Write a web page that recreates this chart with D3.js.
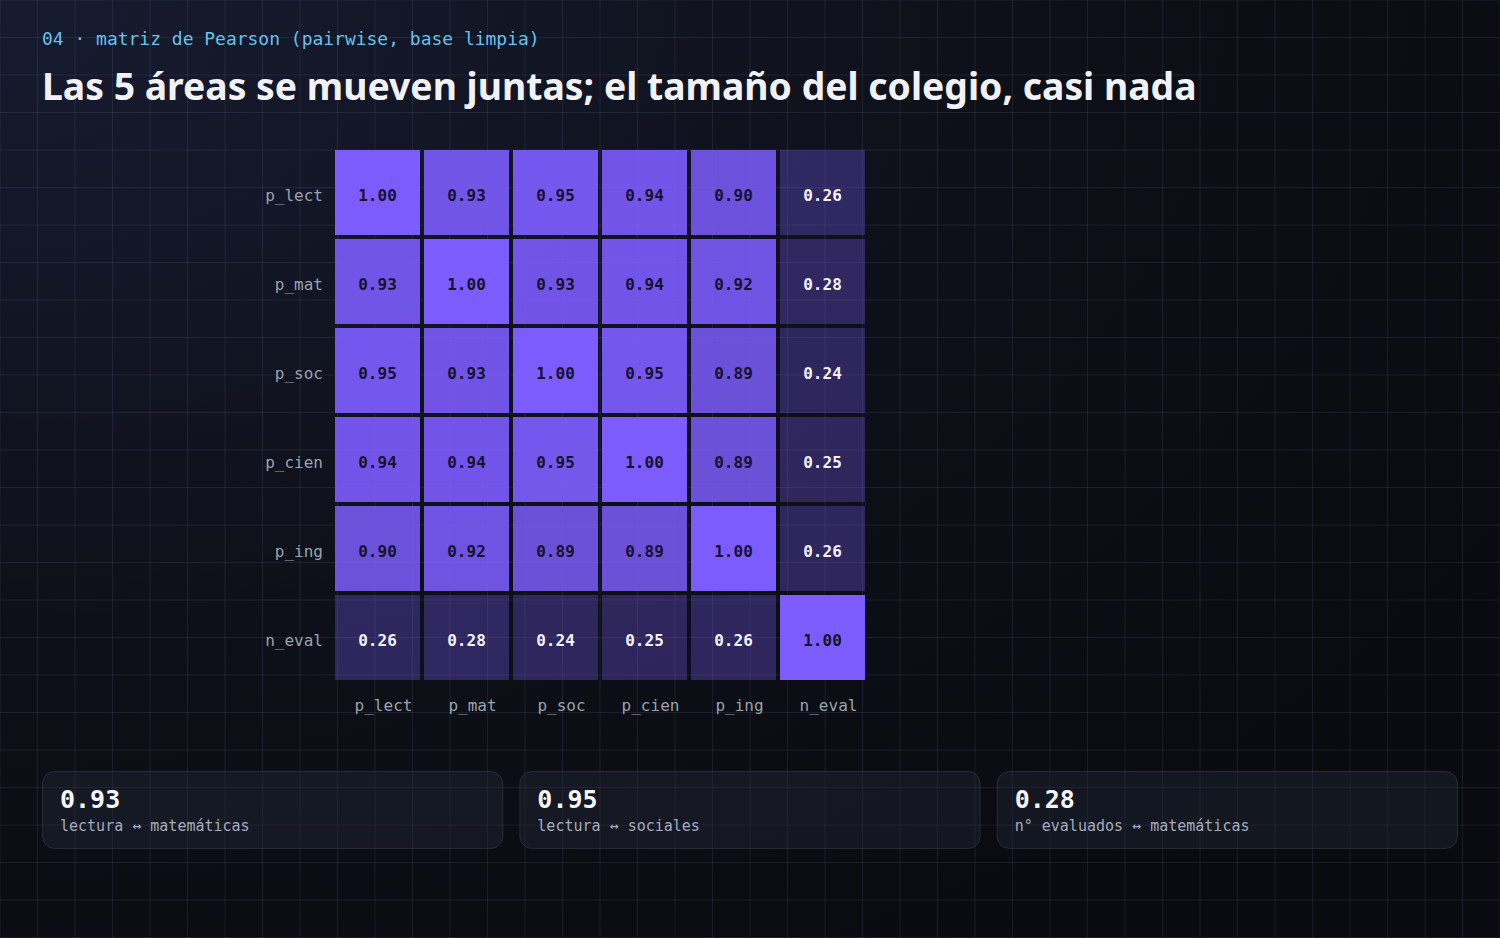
<!DOCTYPE html>
<html>
<head>
<meta charset="utf-8">
<script src="https://cdn.jsdelivr.net/npm/d3@7"></script>
<style>
  html, body { margin: 0; padding: 0; background: #0c0e15; }
  svg { display: block; }
</style>
</head>
<body>
<svg id="chart" width="1500" height="938"></svg>
<script>
// Variables in the matrix (rows and columns use the same order)
const vars = ['p_lect', 'p_mat', 'p_soc', 'p_cien', 'p_ing', 'n_eval'];

// Pearson r, one array per row
const rowLect = [1.00, 0.93, 0.95, 0.94, 0.90, 0.26];
const rowMat  = [0.93, 1.00, 0.93, 0.94, 0.92, 0.28];
const rowSoc  = [0.95, 0.93, 1.00, 0.95, 0.89, 0.24];
const rowCien = [0.94, 0.94, 0.95, 1.00, 0.89, 0.25];
const rowIng  = [0.90, 0.92, 0.89, 0.89, 1.00, 0.26];
const rowEval = [0.26, 0.28, 0.24, 0.25, 0.26, 1.00];
const matrix = [rowLect, rowMat, rowSoc, rowCien, rowIng, rowEval];

// Summary cards
const cardValues = [0.93, 0.95, 0.28];
const cardLabels = ['lectura ↔ matemáticas', 'lectura ↔ sociales', 'n° evaluados ↔ matemáticas'];

const W = 1500, H = 938;
const MONO = "'DejaVu Sans Mono', 'Liberation Mono', monospace";
const SANS = "'Noto Sans', 'Open Sans', sans-serif";

const svg = d3.select('#chart');
const defs = svg.append('defs');

// ─── Background ──────────────────────────────────────────────
const bg = defs.append('radialGradient')
    .attr('id', 'bg').attr('cx', '0%').attr('cy', '0%').attr('r', '120%');
bg.append('stop').attr('offset', '0%').attr('stop-color', '#171b30');
bg.append('stop').attr('offset', '55%').attr('stop-color', '#0e1019');
bg.append('stop').attr('offset', '100%').attr('stop-color', '#090b10');
svg.append('rect').attr('width', W).attr('height', H).attr('fill', 'url(#bg)');

const gridStep = 37.5;
const grid = svg.append('g').attr('stroke', 'rgba(150,160,190,0.12)').attr('stroke-width', 1);
grid.selectAll('line.v').data(d3.range(0, W + 1, gridStep)).enter().append('line')
    .attr('x1', d => d).attr('x2', d => d).attr('y1', 0).attr('y2', H);
grid.selectAll('line.h').data(d3.range(0, H + 1, gridStep)).enter().append('line')
    .attr('y1', d => d).attr('y2', d => d).attr('x1', 0).attr('x2', W);

// ─── Header ──────────────────────────────────────────────────
const sub = svg.append('text')
    .attr('x', 42).attr('y', 45)
    .attr('font-family', MONO).attr('font-size', 18)
    .attr('fill', '#62c4ec')
    .text('04 · matriz de Pearson (pairwise, base limpia)');
sub.attr('font-size', 18 * 498 / sub.node().getComputedTextLength());

const title = svg.append('text')
    .attr('x', 42).attr('y', 100)
    .attr('font-family', SANS).attr('font-weight', 700).attr('font-size', 40)
    .attr('fill', '#f1f2f8')
    .text('Las 5 áreas se mueven juntas; el tamaño del colegio, casi nada');
// fit to the reference width
title.attr('font-size', 40 * 1155 / title.node().getComputedTextLength());

// ─── Matrix ──────────────────────────────────────────────────
const x = d3.scaleBand().domain(vars).range([335, 865]).paddingInner(4 / 89);
const y = d3.scaleBand().domain(vars).range([150, 680]).paddingInner(4 / 89);
const alpha = d3.scaleLinear().domain([0, 1]).range([0.26, 1]);

const cells = [];
matrix.forEach((row, i) => row.forEach((v, j) => cells.push({ row: vars[i], col: vars[j], value: v })));

const g = svg.append('g');
g.selectAll('rect.cell').data(cells).enter().append('rect')
    .attr('class', 'cell')
    .attr('x', d => x(d.col)).attr('y', d => y(d.row))
    .attr('width', x.bandwidth()).attr('height', y.bandwidth())
    .attr('fill', '#7c5cfc')
    .attr('fill-opacity', d => alpha(d.value * d.value));

g.selectAll('text.val').data(cells).enter().append('text')
    .attr('class', 'val')
    .attr('x', d => x(d.col) + x.bandwidth() / 2)
    .attr('y', d => y(d.row) + y.bandwidth() / 2 + 3)
    .attr('dy', '0.35em')
    .attr('text-anchor', 'middle')
    .attr('font-family', MONO).attr('font-weight', 700).attr('font-size', 16)
    .attr('fill', d => d.value > 0.5 ? '#16112e' : '#f4f2ff')
    .text(d => d.value.toFixed(2));

// row labels
svg.append('g').selectAll('text').data(vars).enter().append('text')
    .attr('x', 323)
    .attr('y', d => y(d) + y.bandwidth() / 2 + 3)
    .attr('dy', '0.35em')
    .attr('text-anchor', 'end')
    .attr('font-family', MONO).attr('font-size', 16)
    .attr('fill', '#9ba1ae')
    .text(d => d);

// column labels
svg.append('g').selectAll('text').data(vars).enter().append('text')
    .attr('x', d => x(d) + x.bandwidth() / 2 + 6)
    .attr('y', 711)
    .attr('text-anchor', 'middle')
    .attr('font-family', MONO).attr('font-size', 16)
    .attr('fill', '#9ba1ae')
    .text(d => d);

// ─── Cards ───────────────────────────────────────────────────
const cx = d3.scaleBand().domain(d3.range(cardValues.length)).range([42, 1457]).paddingInner(17 / 477);
const cards = svg.append('g').selectAll('g').data(cardValues).enter().append('g')
    .attr('transform', (d, i) => `translate(${cx(i)},771)`);
cards.append('rect')
    .attr('x', 0.5).attr('y', 0.5)
    .attr('width', cx.bandwidth()).attr('height', 77)
    .attr('rx', 12)
    .attr('fill', 'rgba(40,46,64,0.35)')
    .attr('stroke', 'rgba(160,170,200,0.16)');
cards.append('text')
    .attr('x', 18).attr('y', 37)
    .attr('font-family', MONO).attr('font-weight', 700).attr('font-size', 25)
    .attr('fill', '#f5f6fb')
    .text(d => d.toFixed(2));
cards.append('text')
    .attr('x', 18).attr('y', 60)
    .attr('font-family', MONO).attr('font-size', 15)
    .attr('fill', '#a3abbd')
    .text((d, i) => cardLabels[i]);
</script>
</body>
</html>
